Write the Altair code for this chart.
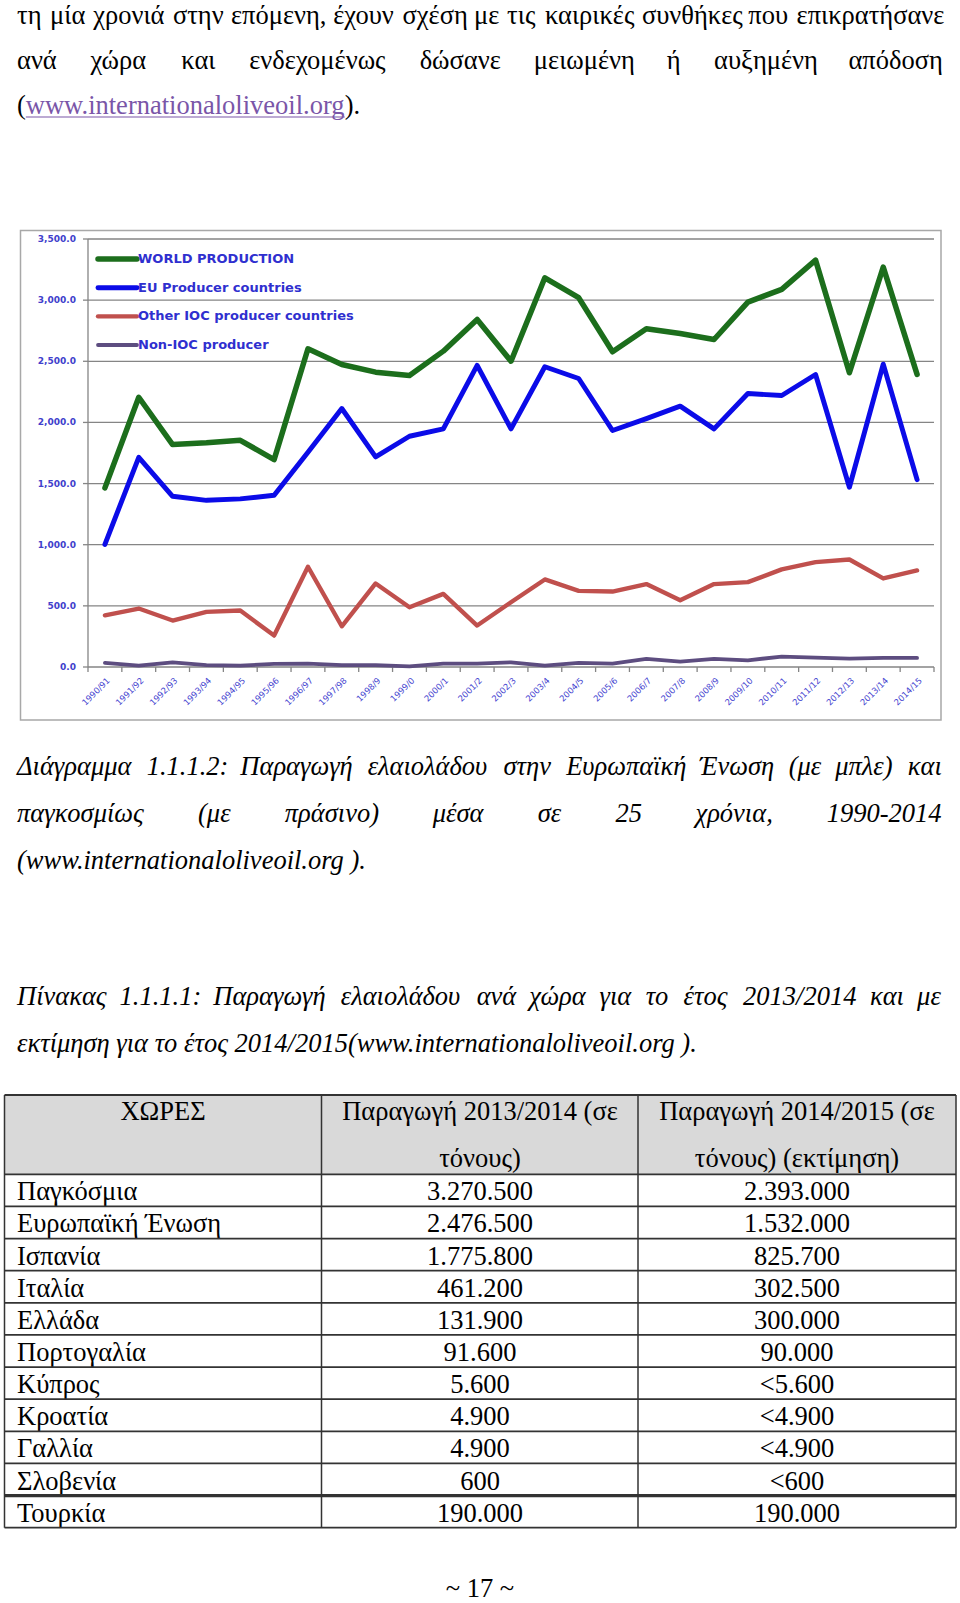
import altair as alt
import pandas as pd

# ---------------- chart data ----------------
SEASONS = ["1990/91", "1991/92", "1992/93", "1993/94", "1994/95", "1995/96", "1996/97",
           "1997/98", "1998/9", "1999/0", "2000/1", "2001/2", "2002/3", "2003/4", "2004/5",
           "2005/6", "2006/7", "2007/8", "2008/9", "2009/10", "2010/11", "2011/12", "2012/13",
           "2013/14", "2014/15"]
WORLD = [1465, 2206, 1819, 1833, 1854, 1696, 2602, 2474, 2411, 2384, 2583, 2842, 2501,
         3183, 3020, 2578, 2766, 2727, 2678, 2984, 3088, 3327, 2406, 3270.5, 2393]
EU = [1003, 1715, 1396, 1363, 1375, 1404, 1756, 2114, 1718, 1887, 1947, 2466, 1947,
      2455, 2359, 1934, 2031, 2133, 1947, 2236, 2220, 2392, 1470, 2476.5, 1532]
OTHER_IOC = [423, 478, 380, 451, 462, 257, 820, 333, 683, 489, 598, 339, 530,
             716, 623, 617, 678, 546, 678, 694, 798, 858, 879, 724, 790]
NON_IOC = [33, 11, 38, 16, 11, 25, 27, 16, 16, 5, 27, 27, 38,
           11, 33, 27, 66, 44, 66, 55, 85, 77, 68, 74, 74]
SERIES = ["WORLD PRODUCTION", "EU Producer  countries",
          "Other IOC producer countries", "Non-IOC producer"]
Y_TICKS = [0, 500, 1000, 1500, 2000, 2500, 3000, 3500]

# ---------------- table data ----------------
COUNTRIES = ["Παγκόσμια", "Ευρωπαϊκή Ένωση", "Ισπανία", "Ιταλία", "Ελλάδα", "Πορτογαλία",
             "Κύπρος", "Κροατία", "Γαλλία", "Σλοβενία", "Τουρκία"]
PROD_2013_14 = ["3.270.500", "2.476.500", "1.775.800", "461.200", "131.900", "91.600",
                "5.600", "4.900", "4.900", "600", "190.000"]
PROD_2014_15 = ["2.393.000", "1.532.000", "825.700", "302.500", "300.000", "90.000",
                "<5.600", "<4.900", "<4.900", "<600", "190.000"]
HEADER_1 = ["ΧΩΡΕΣ"]
HEADER_2 = ["Παραγωγή 2013/2014 (σε", "τόνους)"]
HEADER_3 = ["Παραγωγή 2014/2015 (σε", "τόνους) (εκτίμηση)"]

# ---------------- page text ----------------
TOP_L1 = "τη μία χρονιά στην επόμενη, έχουν σχέση με τις καιρικές συνθήκες που επικρατήσανε".split()
TOP_L2 = ["ανά", "χώρα", "και", "ενδεχομένως", "δώσανε", "μειωμένη", "ή", "αυξημένη", "απόδοση"]
TOP_L3_A = "("
TOP_LINK = "www.internationaloliveoil.org"
TOP_L3_B = ")."
CAP_L1 = ["Διάγραμμα", "1.1.1.2:", "Παραγωγή", "ελαιολάδου", "στην", "Ευρωπαϊκή", "Ένωση",
          "(με", "μπλε)", "και"]
CAP_L2 = ["παγκοσμίως", "(με", "πράσινο)", "μέσα", "σε", "25", "χρόνια,", "1990-2014"]
CAP_L3 = ["(www.internationaloliveoil.org )."]
TAB_L1 = ["Πίνακας", "1.1.1.1:", "Παραγωγή", "ελαιολάδου", "ανά", "χώρα", "για", "το",
          "έτος", "2013/2014", "και", "με"]
TAB_L2 = ["εκτίμηση για το έτος 2014/2015(www.internationaloliveoil.org )."]
PAGE_NO = ["~ 17 ~"]

# ---------------- layout ----------------
W, H = 960, 1603
SERIF = "Liberation Serif"
FS = 26.5
LEFT, RIGHT = 17, 941.5
BASE = {"t1": 24, "t2": 69, "t3": 114, "c1": 775, "c2": 822, "c3": 869,
        "b1": 1005, "b2": 1052}

# approximate advance widths (em) of Liberation Serif, used only to justify lines
ADV = {" ": .25, ".": .25, ",": .25, ":": .278, "/": .278, "-": .333, "(": .333, ")": .333,
       "a": .444, "c": .444, "e": .444, "g": .5, "i": .278, "l": .278, "n": .5, "o": .5,
       "r": .333, "t": .278, "v": .5, "w": .722,
       "α": .52, "ά": .52, "β": .49, "γ": .44, "δ": .48, "ε": .41, "έ": .41, "ζ": .42,
       "η": .5, "ή": .5, "θ": .47, "ι": .27, "ί": .27, "ϊ": .27, "κ": .48, "λ": .47,
       "μ": .51, "ν": .44, "ξ": .42, "ο": .5, "ό": .5, "π": .51, "ρ": .49, "σ": .5,
       "ς": .41, "τ": .42, "υ": .48, "ύ": .48, "φ": .6, "χ": .46, "ψ": .63, "ω": .67,
       "ώ": .67, "Δ": .61, "Π": .72, "Ε": .61, "Έ": .75, "Ι": .33}


def est(s, size=FS):
    return sum(ADV.get(ch, .5) for ch in s) * size


def justify(words, size=FS, left=LEFT, right=RIGHT):
    widths = [est(w, size) for w in words]
    gap = (right - left - sum(widths)) / (len(words) - 1)
    xs, x = [], left
    for w in widths:
        xs.append(x)
        x += w + gap
    return xs


one = pd.DataFrame({"k": [0]})
TX = alt.Scale(domain=[0, W], range=[0, W], nice=False, zero=False)
TY = alt.Scale(domain=[0, H], range=[0, H], nice=False, zero=False)


def tokens(words, xs, base):
    return pd.DataFrame({"t": words, "x": xs, "y": [base] * len(words)})


def text_layer(df, style="normal", color="black", size=FS, align="left"):
    return alt.Chart(df).mark_text(
        font=SERIF, fontSize=size, fontStyle=style, color=color, align=align,
        baseline="alphabetic"
    ).encode(
        x=alt.X("x:Q", scale=TX, axis=None),
        y=alt.Y("y:Q", scale=TY, axis=None),
        text="t:N",
    )


layers = []

# ---- paragraph text at top ----
link_x = LEFT + est(TOP_L3_A)
link_end = link_x + est(TOP_LINK) - 2
normal_df = pd.concat([
    tokens(TOP_L1, justify(TOP_L1), BASE["t1"]),
    tokens(TOP_L2, justify(TOP_L2), BASE["t2"]),
    tokens([TOP_L3_A], [LEFT], BASE["t3"]),
    tokens([TOP_L3_B], [link_end], BASE["t3"]),
])
layers.append(text_layer(normal_df))
layers.append(text_layer(tokens([TOP_LINK], [link_x], BASE["t3"]), color="#7a56a8"))
layers.append(alt.Chart(one).mark_rule(color="#7a56a8", strokeWidth=1.2).encode(
    x=alt.value(link_x), x2=alt.value(link_end), y=alt.value(BASE["t3"] + 3)))

# ---- line chart ----
XS = alt.Scale(type="band", domain=SEASONS, range=[88, 934], paddingInner=0, paddingOuter=0)
YS = alt.Scale(domain=[0, 3500], range=[667, 239], nice=False, zero=False)
GRID = "#858585"

layers.append(alt.Chart(one).mark_rect(filled=False, stroke="#a8a8a8", strokeWidth=1.5).encode(
    x=alt.value(20.5), x2=alt.value(941), y=alt.value(230.5), y2=alt.value(720)))

grid_df = pd.DataFrame({"v": Y_TICKS})
layers.append(alt.Chart(grid_df).mark_rule(color=GRID, strokeWidth=1.3).encode(
    y=alt.Y("v:Q", scale=YS, axis=None), x=alt.value(88), x2=alt.value(934)))
layers.append(alt.Chart(grid_df).mark_rule(color=GRID, strokeWidth=1.3).encode(
    y=alt.Y("v:Q", scale=YS, axis=None), x=alt.value(83), x2=alt.value(88)))
layers.append(alt.Chart(grid_df).mark_text(
    font="DejaVu Sans", fontWeight="bold", fontSize=9, color="#4040cc",
    align="right", baseline="middle").encode(
    y=alt.Y("v:Q", scale=YS, axis=None), x=alt.value(76),
    text=alt.Text("v:Q", format=",.1f")))
layers.append(alt.Chart(one).mark_rule(color=GRID, strokeWidth=1.3).encode(
    x=alt.value(88), y=alt.value(239), y2=alt.value(667)))
layers.append(alt.Chart(one).mark_rule(color=GRID, strokeWidth=1.3).encode(
    x=alt.value(934), y=alt.value(667), y2=alt.value(672)))

season_df = pd.DataFrame({"season": SEASONS})
layers.append(alt.Chart(season_df).mark_rule(color=GRID, strokeWidth=1.3).encode(
    x=alt.X("season:N", scale=XS, axis=None, bandPosition=0),
    y=alt.value(667), y2=alt.value(672)))
layers.append(alt.Chart(season_df).mark_text(
    font="DejaVu Sans", fontSize=8.5, color="#4545d0", angle=315,
    align="right", baseline="middle").encode(
    x=alt.X("season:N", scale=XS, axis=None, bandPosition=0.6),
    y=alt.value(679), text="season:N"))

rows = []
for s, vals in zip(SERIES, [WORLD, EU, OTHER_IOC, NON_IOC]):
    for i, (season, v) in enumerate(zip(SEASONS, vals)):
        rows.append({"series": s, "season": season, "value": v, "i": i})
line_df = pd.DataFrame(rows)
COLOR_SCALE = alt.Scale(domain=SERIES, range=["#1c6e1c", "#0b0be8", "#c0504d", "#5d4d80"])
WIDTH_SCALE = alt.Scale(domain=SERIES, range=[5.5, 3.8, 3.8, 4])

layers.append(alt.Chart(line_df).mark_line(strokeJoin="round", strokeCap="round").encode(
    x=alt.X("season:N", scale=XS, axis=None, bandPosition=0.5),
    y=alt.Y("value:Q", scale=YS, axis=None),
    color=alt.Color("series:N", scale=COLOR_SCALE, legend=None),
    strokeWidth=alt.StrokeWidth("series:N", scale=WIDTH_SCALE, legend=None),
    order=alt.Order("i:Q"),
))

# legend inside the plot
LEG_Y = alt.Scale(type="point", domain=SERIES, range=[259, 345], padding=0)
series_df = pd.DataFrame({"series": SERIES})
layers.append(alt.Chart(series_df).mark_rule(strokeCap="round").encode(
    x=alt.value(98), x2=alt.value(137),
    y=alt.Y("series:N", scale=LEG_Y, axis=None),
    color=alt.Color("series:N", scale=COLOR_SCALE, legend=None),
    strokeWidth=alt.StrokeWidth("series:N", scale=WIDTH_SCALE, legend=None),
))
layers.append(alt.Chart(series_df).mark_text(
    font="DejaVu Sans", fontWeight="bold", fontSize=13, color="#2f2fcf",
    align="left", baseline="middle").encode(
    x=alt.value(138), y=alt.Y("series:N", scale=LEG_Y, axis=None), text="series:N"))

# ---- captions ----
italic_df = pd.concat([
    tokens(CAP_L1, justify(CAP_L1), BASE["c1"]),
    tokens(CAP_L2, justify(CAP_L2), BASE["c2"]),
    tokens(CAP_L3, [LEFT], BASE["c3"]),
    tokens(TAB_L1, justify(TAB_L1), BASE["b1"]),
    tokens(TAB_L2, [LEFT], BASE["b2"]),
])
layers.append(text_layer(italic_df, style="italic"))

# ---- table ----
T_TOP, T_HEAD, T_BOT = 1095, 1174.3, 1527.7
COL_X = [4.5, 321.5, 638, 956]
C1, C2, C3 = 163, 480, 797
ROW_Y = alt.Scale(type="band", domain=COUNTRIES, range=[T_HEAD, T_BOT], paddingInner=0, paddingOuter=0)

layers.append(alt.Chart(one).mark_rect(color="#d9d9d9").encode(
    x=alt.value(COL_X[0]), x2=alt.value(COL_X[3]), y=alt.value(T_TOP), y2=alt.value(T_HEAD)))

head_df = pd.concat([
    tokens(HEADER_1, [C1], 1120),
    tokens(HEADER_2[:1], [C2], 1120),
    tokens(HEADER_2[1:], [C2], 1167),
    tokens(HEADER_3[:1], [C3], 1120),
    tokens(HEADER_3[1:], [C3], 1167),
])
layers.append(text_layer(head_df, align="center"))

tab_df = pd.DataFrame({"country": COUNTRIES, "p1": PROD_2013_14, "p2": PROD_2014_15})
base_tab = alt.Chart(tab_df)
ROW_ENC = alt.Y("country:N", scale=ROW_Y, axis=None, bandPosition=0.5)
for field, xpos, al in [("country", LEFT, "left"), ("p1", C2, "center"), ("p2", C3, "center")]:
    layers.append(base_tab.mark_text(font=SERIF, fontSize=FS, align=al, baseline="middle",
                                     dy=2, color="black").encode(
        x=alt.value(xpos), y=ROW_ENC, text=f"{field}:N"))

layers.append(base_tab.mark_rule(color="#333333").encode(
    y=alt.Y("country:N", scale=ROW_Y, axis=None, bandPosition=0),
    x=alt.value(COL_X[0]), x2=alt.value(COL_X[3]),
    strokeWidth=alt.condition(alt.datum.country == "Τουρκία", alt.value(3.2), alt.value(1.8)),
))
for yy in [T_TOP, T_BOT]:
    layers.append(alt.Chart(one).mark_rule(color="#333333", strokeWidth=1.8).encode(
        y=alt.value(yy), x=alt.value(COL_X[0]), x2=alt.value(COL_X[3])))
for xx in COL_X:
    layers.append(alt.Chart(one).mark_rule(color="#333333", strokeWidth=1.5).encode(
        x=alt.value(xx), y=alt.value(T_TOP), y2=alt.value(T_BOT)))

# ---- page number ----
layers.append(text_layer(tokens(PAGE_NO, [480], 1597), align="center"))

chart = alt.layer(*layers).properties(
    width=W, height=H, padding=0, autosize=alt.AutoSizeParams(type="none"),
    background="white",
).resolve_scale(
    x="independent", y="independent", color="independent", strokeWidth="independent"
).configure_view(stroke=None)

chart.save("out.html", embed_options={"renderer": "svg", "actions": False})
